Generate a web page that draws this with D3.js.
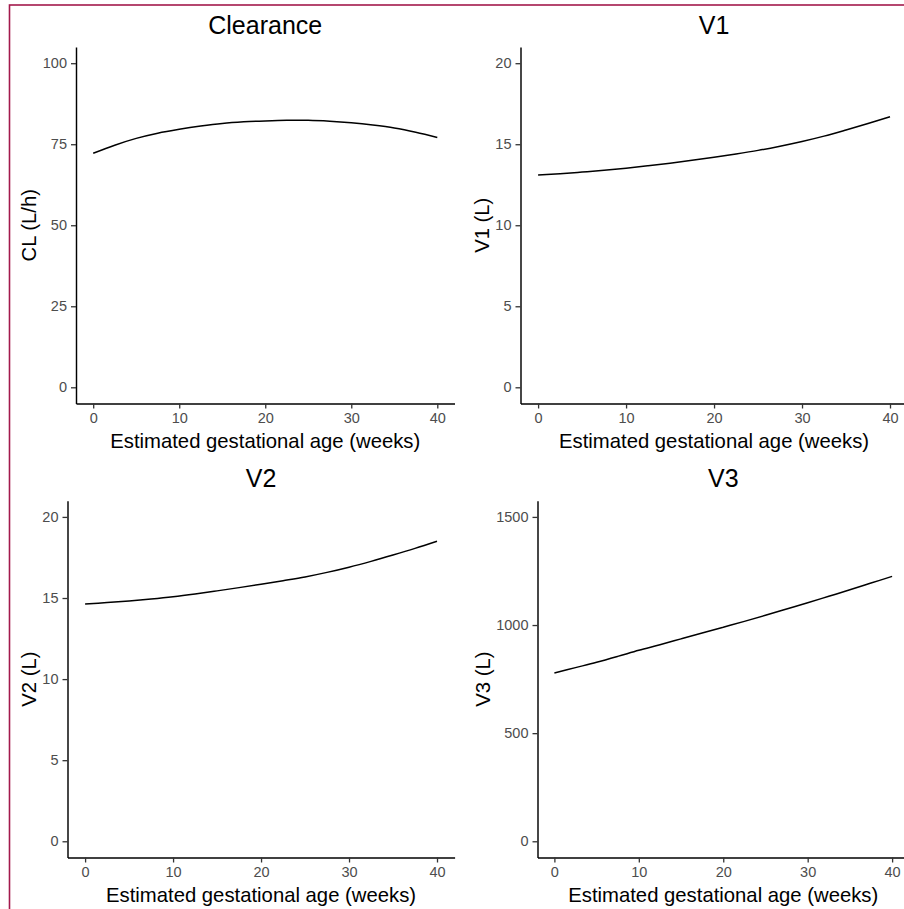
<!DOCTYPE html>
<html>
<head>
<meta charset="utf-8">
<script src="https://cdn.jsdelivr.net/npm/d3@7"></script>
<style>
  html, body { margin: 0; padding: 0; background: #fff; overflow: hidden; }
  svg { display: block; font-family: "Liberation Sans", Arial, sans-serif; }
</style>
</head>
<body>
<svg id="chart" width="904" height="909"></svg>
<script>
// Gestational age grid (weeks)
const weeks = [0, 2.5, 5, 7.5, 10, 12.5, 15, 17.5, 20, 22.5, 25, 27.5, 30, 32.5, 35, 37.5, 40];

// Typical parameter values over gestation
const clValues = [72.2, 74.7, 76.8, 78.4, 79.6, 80.6, 81.4, 81.9, 82.2, 82.4, 82.4, 82.1, 81.6, 80.9, 80.0, 78.7, 77.1];
const v1Values = [13.10, 13.18, 13.28, 13.39, 13.52, 13.67, 13.83, 14.01, 14.20, 14.40, 14.62, 14.88, 15.17, 15.50, 15.88, 16.28, 16.70];
const v2Values = [14.63, 14.72, 14.82, 14.94, 15.08, 15.25, 15.44, 15.64, 15.85, 16.07, 16.30, 16.58, 16.90, 17.26, 17.65, 18.06, 18.50];
const v3Values = [778, 803, 828, 855, 883, 909, 936, 963, 990, 1017, 1045, 1074, 1103, 1133, 1163, 1194, 1225];

// Axis breaks
const xTicks = [0, 10, 20, 30, 40];
const clTicks = [0, 25, 50, 75, 100];
const v1Ticks = [0, 5, 10, 15, 20];
const v2Ticks = [0, 5, 10, 15, 20];
const v3Ticks = [0, 500, 1000, 1500];

// Panel titles and y-axis labels
const titles = ["Clearance", "V1", "V2", "V3"];
const yLabels = ["CL (L/h)", "V1 (L)", "V2 (L)", "V3 (L)"];
const xLabel = "Estimated gestational age (weeks)";

const series = [clValues, v1Values, v2Values, v3Values];
const yTickSets = [clTicks, v1Ticks, v2Ticks, v3Ticks];
const yMax = [100, 20, 20, 1500];

// Panel frames (pixel layout)
const frames = [
  { left: 76,    right: 454.5, top: 47,    bottom: 403.5 },
  { left: 520.5, right: 907.6, top: 47,    bottom: 403.5 },
  { left: 67.5,  right: 454.6, top: 500.7, bottom: 857.5 },
  { left: 537.5, right: 909,   top: 500.7, bottom: 857.5 }
];

const svg = d3.select("#chart");

// outer frame
svg.append("rect")
  .attr("x", 9.5).attr("y", 5)
  .attr("width", 1000).attr("height", 1000)
  .attr("fill", "none")
  .attr("stroke", "#a3194c")
  .attr("stroke-width", 1.6);

frames.forEach((f, i) => {
  const x = d3.scaleLinear().domain([-2, 42]).range([f.left, f.right]);
  const ym = yMax[i];
  const y = d3.scaleLinear().domain([-0.05 * ym, 1.05 * ym]).range([f.bottom, f.top]);
  const g = svg.append("g");

  // x axis
  const gx = g.append("g")
    .attr("transform", `translate(0,${f.bottom})`)
    .call(d3.axisBottom(x).tickValues(xTicks).tickFormat(d3.format("d"))
      .tickSize(5).tickPadding(4).tickSizeOuter(0));
  // y axis
  const gy = g.append("g")
    .attr("transform", `translate(${f.left},0)`)
    .call(d3.axisLeft(y).tickValues(yTickSets[i]).tickFormat(d3.format("d"))
      .tickSize(5).tickPadding(4).tickSizeOuter(0));

  [gx, gy].forEach(a => {
    a.attr("font-size", null).attr("font-family", null);
    a.select(".domain").attr("stroke", "#000").attr("stroke-width", 1.45);
    a.selectAll(".tick line").attr("stroke", "#333").attr("stroke-width", 1.3);
    a.selectAll(".tick text")
      .attr("fill", "#4d4d4d")
      .style("font-size", "14.5px")
      .style("font-family", "Liberation Sans, Arial, sans-serif");
  });

  // curve
  const pts = weeks.map((w, k) => [w, series[i][k]]);
  g.append("path")
    .datum(pts)
    .attr("fill", "none")
    .attr("stroke", "#000")
    .attr("stroke-width", 1.5)
    .attr("d", d3.line().x(d => x(d[0])).y(d => y(d[1])).curve(d3.curveCatmullRom));

  const cx = (f.left + f.right) / 2;

  // panel title
  g.append("text")
    .attr("x", cx).attr("y", f.top - 13.5)
    .attr("text-anchor", "middle")
    .style("font-size", "25px")
    .attr("fill", "#000")
    .text(titles[i]);

  // x axis title
  g.append("text")
    .attr("x", cx).attr("y", f.bottom + 44.5)
    .attr("text-anchor", "middle")
    .style("font-size", "20.3px")
    .attr("fill", "#000")
    .text(xLabel);

  // y axis title placed just left of the widest tick label
  let maxW = 0;
  gy.selectAll(".tick text").each(function () { maxW = Math.max(maxW, this.getBBox().width); });
  const tx = f.left - 5 - 4 - maxW - 6.5;
  g.append("text")
    .attr("transform", `translate(${tx},${(f.top + f.bottom) / 2}) rotate(-90)`)
    .attr("text-anchor", "middle")
    .style("font-size", "20.3px")
    .attr("fill", "#000")
    .text(yLabels[i]);
});
</script>
</body>
</html>
